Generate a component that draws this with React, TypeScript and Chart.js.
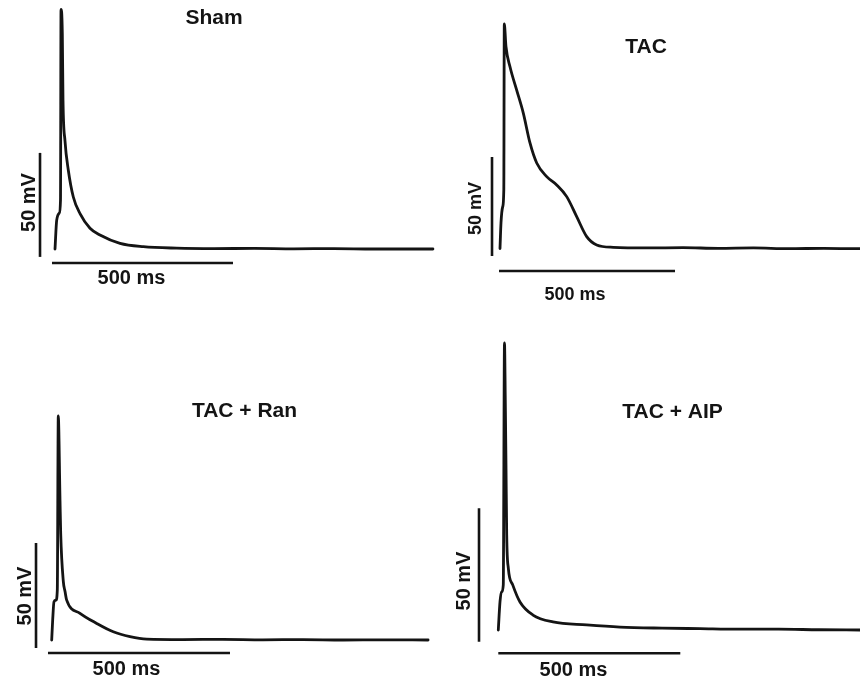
import React, { useEffect, useRef } from "react";
import { Chart, registerables } from "chart.js";

Chart.register(...registerables);

// ---------- data (time in ms from stimulus, membrane potential in mV) ----------
const panelTitles = ["Sham", "TAC", "TAC + Ran", "TAC + AIP"];

const shamTime = [0, 4.7, 11.9, 15.2, 16.6, 20.2, 22.1, 27.6, 36.7, 50.6, 69.1, 96.7, 124.3, 179.6, 243.9, 336, 440, 550, 660, 770, 880, 1044];
const shamVm = [-80, -66.1, -62.7, -56.4, 35.2, 23.8, -8.4, -28, -42, -55, -63, -70, -73.3, -77.3, -78.9, -79.6, -79.8, -79.7, -79.9, -79.8, -80, -80];

const tacTime = [0, 2.8, 7.7, 10.8, 12.2, 17.0, 28.4, 47.4, 66.2, 85.2, 104.3, 132.7, 161.1, 189.5, 217.9, 246.3, 274.7, 321.9, 420, 520, 620, 720, 820, 920, 1023];
const tacVm = [-80, -67.1, -58.9, -50.5, 33.4, 21.9, 11.8, 0, -11.6, -26.7, -36.8, -43.7, -47.9, -53.8, -63.9, -74.0, -78.2, -79.4, -79.7, -79.6, -79.9, -79.7, -80.1, -79.9, -80.1];

const ranTime = [0, 2.7, 6.3, 11.8, 15.4, 18.1, 22.8, 24.7, 31.9, 36.5, 41.2, 77.7, 123.6, 169.2, 215.1, 261, 360, 470, 580, 690, 800, 910, 1034];
const ranVm = [-80, -70.5, -61.8, -61.0, -56.2, 26.7, -13.3, -29.2, -52.1, -56.8, -61.0, -67.3, -72.1, -76.1, -78.4, -79.6, -79.8, -79.7, -79.9, -79.8, -80, -79.9, -80];

const aipTime = [0, 4.7, 9.3, 13.7, 17.0, 19.2, 21.2, 23.1, 27.5, 39.6, 59.6, 95.3, 150.3, 242.9, 334.3, 450, 554, 660, 770, 880, 994];
const aipVm = [-80, -69.4, -65.7, -63.1, 27.5, 6.1, -19.3, -44.4, -56.8, -63.1, -69.5, -74.4, -77.0, -78.1, -78.9, -79.3, -79.5, -79.7, -79.7, -79.9, -80];

const traceTimes = [shamTime, tacTime, ranTime, aipTime];
const traceVms = [shamVm, tacVm, ranVm, aipVm];

// scale bars (data units)
const SCALE_MS = 500;
const SCALE_MV = 50;
const vBarTime = [-41.4, -22.7, -43.1, -53];
const vBarBase = [-83.8, -83.8, -83.8, -84.4];
const hBarVm = [-86.7, -91.4, -86.2, -88.7];
const hBarStart = [-8.3, -2.8, -10.2, 0];
const msLabel = "500 ms";
const mvLabel = "50 mV";

// ---------- layout (page pixels) ----------
const boxes = [
  { left: 0, top: 0, width: 440, height: 340 },
  { left: 440, top: 0, width: 420, height: 340 },
  { left: 0, top: 340, width: 440, height: 340 },
  { left: 440, top: 340, width: 420, height: 340 },
];
// calibration: page x of t=0, page y of -80 mV, px per ms, px per mV
const calib = [
  { x0: 55, yRest: 249, kx: 0.362, ky: 2.08 },
  { x0: 500, yRest: 248.5, kx: 0.352, ky: 1.98 },
  { x0: 51.7, yRest: 640, kx: 0.364, ky: 2.1 },
  { x0: 498.3, yRest: 630, kx: 0.364, ky: 2.67 },
];
const titlePos = [
  { x: 214, y: 16 },
  { x: 646, y: 45.5 },
  { x: 244.5, y: 409 },
  { x: 672.5, y: 410.5 },
];
const msPos = [
  { x: 131.5, y: 276.5, size: 20 },
  { x: 575, y: 293.5, size: 18 },
  { x: 126.5, y: 668, size: 20 },
  { x: 573.5, y: 669, size: 20 },
];
const mvPos = [
  { x: 27.5, y: 202.5, size: 20 },
  { x: 475, y: 208.5, size: 18 },
  { x: 24, y: 596, size: 20 },
  { x: 462.5, y: 581, size: 20 },
];
const TITLE_SIZE = 21;
const FONT = '"Liberation Sans", Arial, Helvetica, sans-serif';
const INK = "#141414";

function Panel({ idx }: { idx: number }) {
  const ref = useRef<HTMLCanvasElement | null>(null);
  useEffect(() => {
    const canvas = ref.current;
    if (!canvas) return;
    const box = boxes[idx];
    const c = calib[idx];
    const xMin = -(c.x0 - box.left) / c.kx;
    const xMax = xMin + box.width / c.kx;
    const yMax = -80 + (c.yRest - box.top) / c.ky;
    const yMin = yMax - box.height / c.ky;

    const trace = traceTimes[idx].map((t, i) => ({ x: t, y: traceVms[idx][i] }));
    const vBar = [
      { x: vBarTime[idx], y: vBarBase[idx] },
      { x: vBarTime[idx], y: vBarBase[idx] + SCALE_MV },
    ];
    const hBar = [
      { x: hBarStart[idx], y: hBarVm[idx] },
      { x: hBarStart[idx] + SCALE_MS, y: hBarVm[idx] },
    ];

    const textPlugin = {
      id: "apText" + idx,
      afterDraw(chart: any) {
        const ctx = chart.ctx as CanvasRenderingContext2D;
        ctx.save();
        ctx.fillStyle = INK;
        ctx.textAlign = "center";
        ctx.textBaseline = "alphabetic";
        ctx.font = `bold ${TITLE_SIZE}px ${FONT}`;
        const tp = titlePos[idx];
        ctx.fillText(panelTitles[idx], tp.x - box.left, tp.y - box.top + 0.358 * TITLE_SIZE);
        const mp = msPos[idx];
        ctx.font = `bold ${mp.size}px ${FONT}`;
        ctx.fillText(msLabel, mp.x - box.left, mp.y - box.top + 0.358 * mp.size);
        const vp = mvPos[idx];
        ctx.font = `bold ${vp.size}px ${FONT}`;
        ctx.translate(vp.x - box.left, vp.y - box.top);
        ctx.rotate(-Math.PI / 2);
        ctx.fillText(mvLabel, 0, 0.358 * vp.size);
        ctx.restore();
      },
    };

    const chart = new Chart(canvas, {
      type: "line",
      data: {
        datasets: [
          {
            label: panelTitles[idx],
            data: trace,
            borderColor: INK,
            borderWidth: 2.8,
            pointRadius: 0,
            cubicInterpolationMode: "monotone",
            borderJoinStyle: "round",
            borderCapStyle: "round",
            fill: false,
          },
          {
            label: "50 mV bar",
            data: vBar,
            borderColor: INK,
            borderWidth: 2.6,
            pointRadius: 0,
            borderCapStyle: "butt",
            fill: false,
          },
          {
            label: "500 ms bar",
            data: hBar,
            borderColor: INK,
            borderWidth: 2.6,
            pointRadius: 0,
            borderCapStyle: "butt",
            fill: false,
          },
        ],
      },
      options: {
        animation: false,
        responsive: false,
        maintainAspectRatio: false,
        devicePixelRatio: 1,
        layout: { padding: 0 },
        plugins: {
          legend: { display: false },
          title: { display: false },
          tooltip: { enabled: false },
        },
        scales: {
          x: { type: "linear", min: xMin, max: xMax, display: false },
          y: { type: "linear", min: yMin, max: yMax, display: false },
        },
      },
      plugins: [textPlugin],
    } as any);
    return () => chart.destroy();
  }, [idx]);

  const box = boxes[idx];
  return (
    <canvas
      ref={ref}
      width={box.width}
      height={box.height}
      style={{
        position: "absolute",
        left: box.left,
        top: box.top,
        width: box.width,
        height: box.height,
      }}
    />
  );
}

export default function App() {
  return (
    <div
      style={{
        position: "absolute",
        left: 0,
        top: 0,
        width: 860,
        height: 680,
        background: "#ffffff",
        overflow: "hidden",
      }}
    >
      {panelTitles.map((_, i) => (
        <Panel key={i} idx={i} />
      ))}
    </div>
  );
}
